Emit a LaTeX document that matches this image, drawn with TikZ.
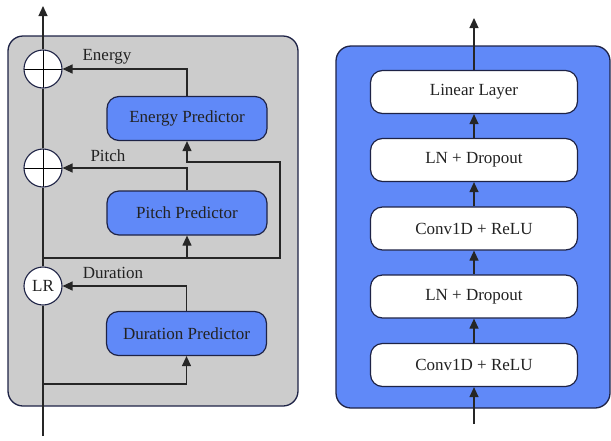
\documentclass[tikz,border=0pt]{standalone}
\usepackage{fontspec}
\setmainfont{Liberation Serif}
\usetikzlibrary{arrows.meta}
\definecolor{panelgray}{HTML}{CCCCCC}
\definecolor{predblue}{HTML}{6089F8}
\definecolor{navy}{HTML}{1E2346}
\definecolor{txt}{HTML}{222222}
\begin{document}
\begin{tikzpicture}[x=1pt,y=-1pt,
  font=\fontsize{17}{20}\selectfont,
  panel/.style={draw=navy,line width=1.3pt,rounded corners=15pt},
  predbox/.style={draw=navy,line width=1.2pt,fill=predblue,rounded corners=12pt,
    minimum width=160pt,minimum height=44pt,text=txt,inner sep=0pt},
  layerbox/.style={draw=navy,line width=1.2pt,fill=white,rounded corners=12pt,
    minimum width=207pt,minimum height=43pt,text=txt,inner sep=0pt},
  opcirc/.style={circle,draw=navy,line width=1.1pt,fill=white,minimum size=38pt,inner sep=0pt,text=txt},
  pluscirc/.style={opcirc,path picture={
    \draw[black,line width=1pt] (path picture bounding box.west) -- (path picture bounding box.east);
    \draw[black,line width=1pt] (path picture bounding box.north) -- (path picture bounding box.south);}},
  conn/.style={draw=black!85,line width=1.2pt},
  arr/.style={conn,-{Triangle[length=10pt,width=9pt]}},
  lbl/.style={text=txt,inner sep=0pt}
]
\useasboundingbox (0,0) rectangle (611,440);
% panels
\draw[panel,fill=panelgray] (8,36) rectangle (298,406);
\draw[panel,fill=predblue] (336,46) rectangle (610,408);

% left panel nodes
\node[pluscirc] (e) at (43,69) {};
\node[pluscirc] (p) at (43,168) {};
\node[opcirc] (lr) at (43,286) {LR};
\node[predbox] (ep) at (187,118.5) {Energy Predictor};
\node[predbox] (pp) at (187,213) {Pitch Predictor};
\node[predbox] (dp) at (186.5,333.5) {Duration Predictor};
\coordinate (in) at (43,436);
\coordinate (out) at (43,6);
\coordinate (s1) at (43,384);
\coordinate (s2) at (43,258);
\coordinate (r1) at (280,258);
\coordinate (r2) at (280,162);

% main line
\draw[conn] (in) -- (lr);
\draw[conn] (lr) -- (p);
\draw[conn] (p) -- (e);
\draw[arr] (e) -- (out);

% branches
\draw[arr] (s1) -| (dp.south);
\draw[arr] (s2) -| (pp.south);
\draw[arr] (s2) -- (r1) -- (r2) -| (ep.south);
\draw[arr] (ep.north) |- (e.east);
\draw[arr] (pp.north) |- (p.east);
\draw[arr] (dp.north) |- (lr.east);

% labels
\node[lbl] (le) at (107,57) {Energy};
\node[lbl] (lp) at (108,156) {Pitch};
\node[lbl] (ld) at (113,273) {Duration};

% right panel
\node[layerbox] (l1) at (474,92) {Linear Layer};
\node[layerbox] (l2) at (474,160) {LN + Dropout};
\node[layerbox] (l3) at (474,228.5) {Conv1D + ReLU};
\node[layerbox] (l4) at (474,296.5) {LN + Dropout};
\node[layerbox] (l5) at (474,365) {Conv1D + ReLU};
\coordinate (rin) at (474,424);
\coordinate (rout) at (474,18);
\draw[arr] (rin) -- (l5.south);
\draw[arr] (l5.north) -- (l4.south);
\draw[arr] (l4.north) -- (l3.south);
\draw[arr] (l3.north) -- (l2.south);
\draw[arr] (l2.north) -- (l1.south);
\draw[arr] (l1.north) -- (rout);
\end{tikzpicture}
\end{document}
